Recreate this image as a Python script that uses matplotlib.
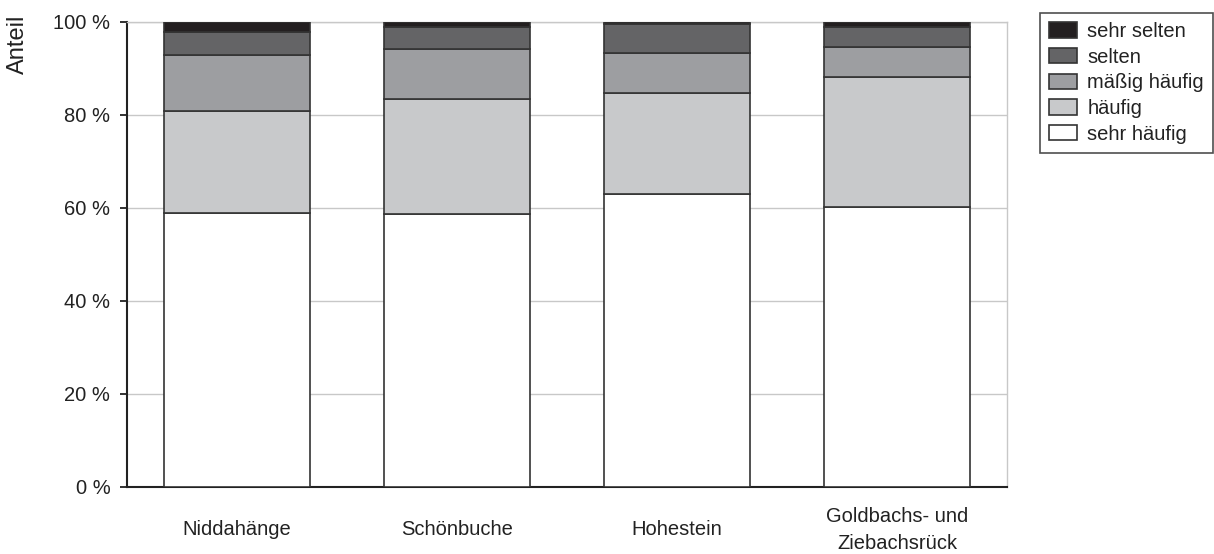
import matplotlib
matplotlib.use("Agg")
import matplotlib.pyplot as plt
import numpy as np

plt.rcParams['font.family'] = ['Liberation Sans', 'DejaVu Sans']

categories = ["Niddahänge", "Schönbuche", "Hohestein", "Goldbachs- und\nZiebachsrück"]
series_names = ["sehr häufig", "häufig", "mäßig häufig", "selten", "sehr selten"]
sehr_haeufig = [58.9, 58.6, 62.9, 60.2]
haeufig = [22.0, 24.7, 21.7, 27.8]
maessig_haeufig = [11.9, 10.8, 8.6, 6.6]
selten = [4.9, 4.8, 6.3, 4.2]
sehr_selten = [2.3, 1.1, 0.5, 1.2]
yticks = [0, 20, 40, 60, 80, 100]
ytick_labels = ["0 %", "20 %", "40 %", "60 %", "80 %", "100 %"]

colors = ["#ffffff", "#c8c9cb", "#9d9ea1", "#646466", "#231f20"]
series = [sehr_haeufig, haeufig, maessig_haeufig, selten, sehr_selten]

fig = plt.figure(figsize=(12.14, 5.54), dpi=100)
ax = fig.add_axes([127/1214, 1-486.7/554, 880/1214, (486.7-21.7)/554])

x = np.arange(len(categories))
bottom = np.zeros(len(categories))
handles = []
for name, vals, c in zip(series_names, series, colors):
    b = ax.bar(x, vals, width=0.66, bottom=bottom, color=c, edgecolor="#333333",
               linewidth=1.2, label=name, zorder=3)
    handles.append(b)
    bottom += np.array(vals)

ax.set_xlim(-0.5, len(categories) - 0.5)
ax.set_ylim(0, 100)
ax.set_yticks(yticks)
ax.set_yticklabels(ytick_labels, fontsize=14.5, color="#222222")
ax.set_xticks(x)
ax.set_xticklabels(categories, fontsize=14.5, color="#222222", va="center",
                   linespacing=1.5)
ax.tick_params(axis="x", length=0, pad=31)
ax.tick_params(axis="y", length=5, width=1.3, pad=7, direction="out", color="#222222")

ax.yaxis.grid(True, color="#c8c8c8", linewidth=1.0, zorder=0)
ax.set_axisbelow(True)
ax.spines["left"].set_color("#222222")
ax.spines["left"].set_linewidth(1.5)
ax.spines["bottom"].set_color("#222222")
ax.spines["bottom"].set_linewidth(1.5)
ax.spines["right"].set_color("#c8c8c8")
ax.spines["right"].set_linewidth(1.0)
ax.spines["top"].set_color("#c8c8c8")
ax.spines["top"].set_linewidth(1.0)

fig.text(18/1214, 1-44/554, "Anteil", rotation=90, ha="center", va="center",
         fontsize=17, color="#222222")

leg = ax.legend(handles[::-1], series_names[::-1], loc="upper left",
                bbox_to_anchor=(1040/1214, 1-13/554), bbox_transform=fig.transFigure,
                borderaxespad=0, fontsize=14.5, frameon=True, fancybox=False,
                edgecolor="#222222", handlelength=1.4, handleheight=0.8,
                labelspacing=0.33, borderpad=0.45, handletextpad=0.5)
leg.get_frame().set_linewidth(1.2)
for t in leg.get_texts():
    t.set_color("#222222")

fig.savefig("out.png", dpi=100)
